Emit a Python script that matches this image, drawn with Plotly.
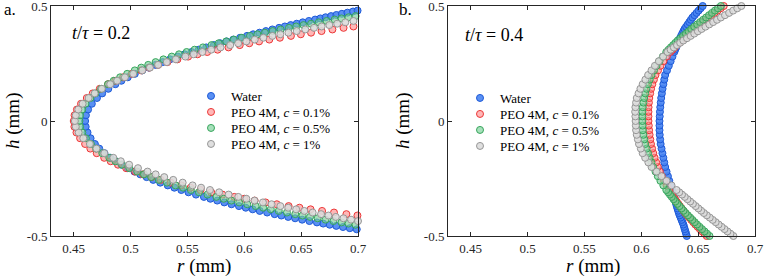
import plotly.graph_objects as go

# ---------------- data ----------------
SERIES = ["Water", "PEO 4M, <i>c</i> = 0.1%", "PEO 4M, <i>c</i> = 0.5%", "PEO 4M, <i>c</i> = 1%"]

# panel a (t/tau = 0.2): heights |h| (mm) shared by both branches
H_A = [0.000, 0.025, 0.050, 0.075, 0.100, 0.120, 0.140, 0.160, 0.175, 0.190, 0.205, 0.220,
       0.232, 0.244, 0.256, 0.268, 0.280, 0.290, 0.300, 0.310, 0.320, 0.330, 0.338, 0.346,
       0.354, 0.362, 0.370, 0.377, 0.384, 0.391, 0.398, 0.405, 0.411, 0.417, 0.423, 0.429,
       0.435, 0.441, 0.446, 0.451, 0.456, 0.461, 0.466, 0.471, 0.476, 0.480]

# radius r (mm) on the upper (h>0) and lower (h<0) branches
WATER_UP_A = [0.4600, 0.4607, 0.4626, 0.4659, 0.4704, 0.4750, 0.4804, 0.4866, 0.4919, 0.4975, 0.5037,
              0.5103, 0.5160, 0.5219, 0.5282, 0.5347, 0.5415, 0.5475, 0.5536, 0.5599, 0.5665, 0.5733,
              0.5788, 0.5845, 0.5903, 0.5963, 0.6024, 0.6078, 0.6134, 0.6190, 0.6247, 0.6306, 0.6357,
              0.6408, 0.6461, 0.6514, 0.6568, 0.6623, 0.6669, 0.6715, 0.6763, 0.6810, 0.6858, 0.6907,
              0.6956, 0.6996]
WATER_LO_A = [0.4600, 0.4605, 0.4621, 0.4648, 0.4686, 0.4724, 0.4770, 0.4823, 0.4869, 0.4919, 0.4974,
              0.5034, 0.5085, 0.5141, 0.5199, 0.5261, 0.5327, 0.5385, 0.5446, 0.5509, 0.5575, 0.5645,
              0.5702, 0.5762, 0.5824, 0.5887, 0.5953, 0.6013, 0.6074, 0.6136, 0.6201, 0.6267, 0.6326,
              0.6386, 0.6447, 0.6509, 0.6573, 0.6639, 0.6694, 0.6751, 0.6809, 0.6868, 0.6928, 0.6989]
PEO01_UP_A = [0.4500, 0.4507, 0.4528, 0.4564, 0.4615, 0.4667, 0.4729, 0.4802, 0.4865, 0.4934, 0.5010,
              0.5093, 0.5165, 0.5242, 0.5324, 0.5412, 0.5506, 0.5588, 0.5674, 0.5765, 0.5861, 0.5960,
              0.6044, 0.6130, 0.6220, 0.6313, 0.6410, 0.6497, 0.6587, 0.6679, 0.6775, 0.6873, 0.6960]
PEO01_LO_A = [0.4500, 0.4506, 0.4524, 0.4556, 0.4600, 0.4646, 0.4702, 0.4768, 0.4825, 0.4889, 0.4961,
              0.5040, 0.5109, 0.5184, 0.5265, 0.5351, 0.5445, 0.5528, 0.5616, 0.5709, 0.5808, 0.5912,
              0.6000, 0.6091, 0.6187, 0.6286, 0.6390, 0.6485, 0.6583, 0.6684, 0.6789, 0.6898, 0.6995]
PEO05_UP_A = [0.4550, 0.4556, 0.4574, 0.4604, 0.4647, 0.4690, 0.4741, 0.4801, 0.4852, 0.4908, 0.4970,
              0.5037, 0.5094, 0.5155, 0.5220, 0.5289, 0.5362, 0.5426, 0.5493, 0.5563, 0.5636, 0.5712,
              0.5775, 0.5841, 0.5908, 0.5978, 0.6050, 0.6115, 0.6181, 0.6250, 0.6320, 0.6393, 0.6456,
              0.6521, 0.6587, 0.6655, 0.6724, 0.6795, 0.6855, 0.6917, 0.6979]
PEO05_LO_A = [0.4550, 0.4556, 0.4575, 0.4607, 0.4651, 0.4697, 0.4751, 0.4813, 0.4867, 0.4925, 0.4989,
              0.5058, 0.5118, 0.5181, 0.5248, 0.5320, 0.5395, 0.5461, 0.5530, 0.5601, 0.5676, 0.5754,
              0.5819, 0.5886, 0.5955, 0.6026, 0.6100, 0.6166, 0.6233, 0.6303, 0.6375, 0.6448, 0.6512,
              0.6578, 0.6645, 0.6714, 0.6784, 0.6855, 0.6916, 0.6978]
PEO1_UP_A = [0.4510, 0.4518, 0.4540, 0.4578, 0.4631, 0.4684, 0.4747, 0.4821, 0.4882, 0.4950, 0.5023,
             0.5103, 0.5170, 0.5242, 0.5318, 0.5398, 0.5482, 0.5555, 0.5631, 0.5709, 0.5791, 0.5876,
             0.5946, 0.6018, 0.6092, 0.6168, 0.6247, 0.6317, 0.6388, 0.6461, 0.6536, 0.6613, 0.6680,
             0.6748, 0.6817, 0.6888, 0.6960]
PEO1_LO_A = [0.4510, 0.4518, 0.4543, 0.4584, 0.4642, 0.4700, 0.4769, 0.4848, 0.4914, 0.4987, 0.5065,
             0.5149, 0.5220, 0.5296, 0.5375, 0.5458, 0.5545, 0.5620, 0.5698, 0.5779, 0.5862, 0.5947,
             0.6018, 0.6090, 0.6164, 0.6240, 0.6317, 0.6386, 0.6456, 0.6528, 0.6601, 0.6675, 0.6740,
             0.6805, 0.6872, 0.6939, 0.7000]

# panel b (t/tau = 0.4): heights h (mm)
H_B = [-0.50, -0.49, -0.48, -0.47, -0.46, -0.45, -0.44, -0.43, -0.42, -0.41, -0.40, -0.39, -0.38,
       -0.37, -0.36, -0.35, -0.34, -0.33, -0.32, -0.31, -0.30,
       -0.28, -0.26, -0.24, -0.22, -0.20, -0.18, -0.16, -0.14, -0.12, -0.10, -0.08, -0.06, -0.04,
       -0.02, 0.00, 0.02, 0.04, 0.06, 0.08, 0.10, 0.12, 0.14, 0.16, 0.18, 0.20, 0.22, 0.24, 0.26, 0.28,
       0.30, 0.31, 0.32, 0.33, 0.34, 0.35, 0.36, 0.37, 0.38, 0.39, 0.40, 0.41, 0.42, 0.43, 0.44,
       0.45, 0.46, 0.47, 0.48, 0.49, 0.50]
WATER_B = [0.6400, 0.6394, 0.6388, 0.6382, 0.6376, 0.6370, 0.6362, 0.6354, 0.6346, 0.6338, 0.6330,
           0.6324, 0.6318, 0.6312, 0.6306, 0.6300, 0.6294, 0.6288, 0.6282, 0.6276, 0.6270,
           0.6258, 0.6246, 0.6234, 0.6222, 0.6210, 0.6202, 0.6194, 0.6186, 0.6178, 0.6170, 0.6166,
           0.6162, 0.6160, 0.6160, 0.6160, 0.6162, 0.6164, 0.6167, 0.6171, 0.6175, 0.6181, 0.6187,
           0.6194, 0.6202, 0.6210, 0.6226, 0.6242, 0.6258, 0.6274,
           0.6290, 0.6298, 0.6306, 0.6314, 0.6322, 0.6330, 0.6340, 0.6350, 0.6360, 0.6370, 0.6380,
           0.6394, 0.6408, 0.6422, 0.6436, 0.6450, 0.6468, 0.6486, 0.6504, 0.6522, 0.6540]
PEO01_B = [0.6575, 0.6555, 0.6535, 0.6515, 0.6495, 0.6475, 0.6457, 0.6439, 0.6421, 0.6403, 0.6385,
           0.6370, 0.6355, 0.6340, 0.6325, 0.6310, 0.6297, 0.6284, 0.6271, 0.6258, 0.6245,
           0.6223, 0.6201, 0.6181, 0.6163, 0.6145, 0.6131, 0.6117, 0.6105, 0.6095, 0.6085, 0.6079,
           0.6073, 0.6069, 0.6066, 0.6063, 0.6063, 0.6063, 0.6064, 0.6067, 0.6070, 0.6078, 0.6086,
           0.6097, 0.6111, 0.6125, 0.6147, 0.6169, 0.6195, 0.6225,
           0.6255, 0.6274, 0.6293, 0.6312, 0.6331, 0.6350, 0.6372, 0.6394, 0.6416, 0.6438, 0.6460,
           0.6486, 0.6512, 0.6538, 0.6564, 0.6590, 0.6617, 0.6644, 0.6671, 0.6698, 0.6725]
PEO05_B = [0.6600, 0.6578, 0.6556, 0.6534, 0.6512, 0.6490, 0.6470, 0.6450, 0.6430, 0.6410, 0.6390,
           0.6372, 0.6354, 0.6336, 0.6318, 0.6300, 0.6284, 0.6268, 0.6252, 0.6236, 0.6220,
           0.6194, 0.6168, 0.6145, 0.6125, 0.6105, 0.6089, 0.6073, 0.6059, 0.6047, 0.6035, 0.6027,
           0.6019, 0.6014, 0.6012, 0.6010, 0.6010, 0.6010, 0.6013, 0.6019, 0.6025, 0.6035, 0.6045,
           0.6058, 0.6074, 0.6090, 0.6112, 0.6134, 0.6160, 0.6190,
           0.6220, 0.6240, 0.6260, 0.6280, 0.6300, 0.6320, 0.6344, 0.6368, 0.6392, 0.6416, 0.6440,
           0.6466, 0.6492, 0.6518, 0.6544, 0.6570, 0.6596, 0.6622, 0.6648, 0.6674, 0.6700]
PEO1_B = [0.6810, 0.6784, 0.6758, 0.6732, 0.6706, 0.6680, 0.6654, 0.6628, 0.6602, 0.6576, 0.6550,
          0.6526, 0.6502, 0.6478, 0.6454, 0.6430, 0.6406, 0.6382, 0.6358, 0.6334, 0.6310,
          0.6266, 0.6222, 0.6178, 0.6134, 0.6090, 0.6062, 0.6034, 0.6012, 0.5996, 0.5980, 0.5970,
          0.5960, 0.5954, 0.5952, 0.5950, 0.5948, 0.5946, 0.5948, 0.5954, 0.5960, 0.5976, 0.5992,
          0.6012, 0.6036, 0.6060, 0.6090, 0.6120, 0.6154, 0.6192,
          0.6230, 0.6258, 0.6286, 0.6314, 0.6342, 0.6370, 0.6402, 0.6434, 0.6466, 0.6498, 0.6530,
          0.6564, 0.6598, 0.6632, 0.6666, 0.6700, 0.6736, 0.6772, 0.6808, 0.6844, 0.6880]

X_TICKS = [0.45, 0.5, 0.55, 0.6, 0.65, 0.7]
X_TICK_TEXT = ["0.45", "0.5", "0.55", "0.6", "0.65", "0.7"]
Y_TICKS = [-0.5, 0, 0.5]
Y_TICK_TEXT = ["-0.5", "0", "0.5"]

# ---------------- styles ----------------
FILLS = ["rgba(72,132,242,0.90)", "rgba(255,135,135,0.60)", "rgba(120,208,150,0.65)", "rgba(220,220,220,0.90)"]
EDGES = ["rgb(30,90,215)", "rgb(236,55,55)", "rgb(55,165,92)", "rgb(150,150,150)"]
FONT = "Liberation Serif"
INK = "#262626"
W, H = 764, 280

# legend rows (pixel positions of the marker centres) for each panel
LEG_A_X, LEG_A_Y = 191, [96, 112, 128, 144]
LEG_B_X, LEG_B_Y = 460, [98, 114, 130, 146]


def join_branches(h, up, lo):
    ys = [-h[i] for i in range(len(lo) - 1, -1, -1)] + [h[i] for i in range(1, len(up))]
    xs = lo[::-1] + up[1:]
    return xs, ys


panel_a = [(WATER_UP_A, WATER_LO_A), (PEO01_UP_A, PEO01_LO_A), (PEO05_UP_A, PEO05_LO_A), (PEO1_UP_A, PEO1_LO_A)]
panel_b = [WATER_B, PEO01_B, PEO05_B, PEO1_B]


def leg_name(k):
    return "legend" if k == 1 else "legend%d" % k


fig = go.Figure()
for i, (up, lo) in enumerate(panel_a):
    xs, ys = join_branches(H_A, up, lo)
    fig.add_trace(go.Scatter(
        x=xs, y=ys, mode="markers", name=SERIES[i], xaxis="x", yaxis="y", legend=leg_name(i + 1),
        cliponaxis=False, showlegend=True,
        marker=dict(symbol="circle", size=7, color=FILLS[i], line=dict(color=EDGES[i], width=1))))
for i, rs in enumerate(panel_b):
    fig.add_trace(go.Scatter(
        x=rs, y=H_B, mode="markers", name=SERIES[i], xaxis="x2", yaxis="y2", legend=leg_name(i + 5),
        cliponaxis=False, showlegend=True,
        marker=dict(symbol="circle", size=7, color=FILLS[i], line=dict(color=EDGES[i], width=1))))

ax_common = dict(showline=True, linecolor=INK, linewidth=1, mirror="ticks", ticks="inside",
                 ticklen=4, tickcolor=INK, tickwidth=1, showgrid=False, zeroline=False,
                 automargin=False, ticklabeloverflow="allow",
                 tickfont=dict(family=FONT, size=13, color=INK))
xa = dict(ax_common, range=[0.43, 0.7], tickmode="array", tickvals=X_TICKS, ticktext=X_TICK_TEXT)
ya = dict(ax_common, range=[-0.5, 0.5], tickmode="array", tickvals=Y_TICKS, ticktext=Y_TICK_TEXT)

ydom = [1 - 236 / H, 1 - 6 / H]
layout = dict(
    width=W, height=H, margin=dict(l=0, r=0, t=0, b=0, pad=0, autoexpand=False),
    paper_bgcolor="white", plot_bgcolor="white", showlegend=True,
    font=dict(family=FONT, color="black"),
    xaxis=dict(xa, domain=[51 / W, 358 / W], anchor="y"),
    yaxis=dict(ya, domain=ydom, anchor="x"),
    xaxis2=dict(xa, domain=[448 / W, 755 / W], anchor="y2"),
    yaxis2=dict(ya, domain=ydom, anchor="x2"),
)
for k in range(8):
    lx = LEG_A_X if k < 4 else LEG_B_X
    ly = (LEG_A_Y + LEG_B_Y)[k]
    layout[leg_name(k + 1)] = dict(
        x=lx / W, y=1 - ly / H, xanchor="left", yanchor="middle", bgcolor="rgba(0,0,0,0)",
        borderwidth=0, font=dict(family=FONT, size=13, color="black"))
fig.update_layout(**layout)


def px_note(text, x, y, size, xanchor="center", angle=0):
    fig.add_annotation(text=text, xref="paper", yref="paper", x=x / W, y=1 - y / H,
                       xanchor=xanchor, yanchor="middle", showarrow=False, textangle=angle,
                       font=dict(family=FONT, size=size, color="black"))


px_note("a.", 2, 9, 17, xanchor="left")
px_note("b.", 397, 9, 17, xanchor="left")
px_note("<i>t</i>/<i>τ</i> = 0.2", 70, 33, 18, xanchor="left")
px_note("<i>t</i>/<i>τ</i> = 0.4", 463, 35, 18, xanchor="left")
px_note("<i>r</i> (mm)", 204, 266, 19)
px_note("<i>r</i> (mm)", 593, 266, 19)
px_note("<i>h</i> (mm)", 13, 121, 19, angle=-90)
px_note("<i>h</i> (mm)", 403, 121, 19, angle=-90)

fig.write_html("out.html", config={"displayModeBar": False},
               post_script="document.body.style.margin='0px';")
